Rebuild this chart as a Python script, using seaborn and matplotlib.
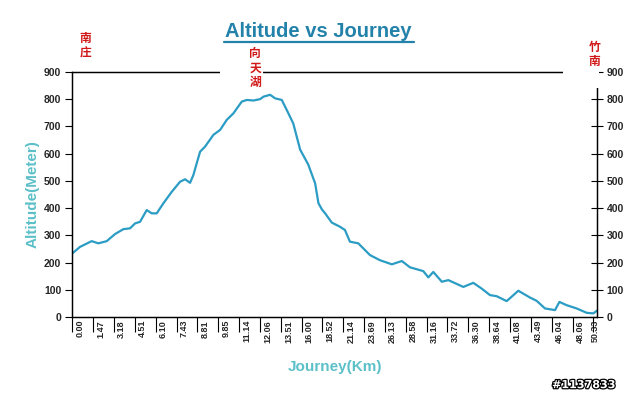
import matplotlib
matplotlib.use('Agg')
import matplotlib.pyplot as plt
import matplotlib.patheffects as pe
from matplotlib.patches import Rectangle
import seaborn as sns
import pandas as pd

# position along the category axis (in label-interval units) and altitude (m)
slot = [0.00, 0.37, 0.93, 1.25, 1.65, 2.05, 2.45, 2.77, 3.01, 3.25, 3.57, 3.81,
        4.05, 4.37, 4.77, 5.17, 5.41, 5.65, 5.81, 5.97, 6.13, 6.37, 6.77, 7.09,
        7.41, 7.73, 8.13, 8.37, 8.69, 9.01, 9.17, 9.49, 9.73, 10.05, 10.29, 10.60,
        10.93, 11.32, 11.65, 11.81, 11.98, 12.13, 12.45, 12.84, 13.08, 13.32, 13.72,
        14.28, 14.76, 15.33, 15.81, 16.20, 16.84, 17.08, 17.32, 17.73, 18.04, 18.76,
        19.24, 19.64, 20.04, 20.36, 20.84, 21.40, 21.96, 22.28, 22.68, 23.16, 23.37,
        23.72, 24.20, 24.68, 25.00, 25.21]
altitude = [234, 258, 279, 271, 279, 305, 323, 326, 344, 350, 393, 381,
            381, 418, 460, 497, 506, 493, 522, 565, 607, 626, 669, 687,
            724, 748, 791, 797, 795, 800, 809, 816, 803, 797, 760, 711,
            615, 560, 491, 418, 395, 381, 347, 332, 320, 277, 271,
            228, 209, 194, 206, 183, 169, 146, 166, 130, 136, 111,
            126, 105, 81, 77, 59, 97, 72, 60, 32, 26, 56,
            44, 32, 16, 14, 26]

journey_labels = ['0.00', '1.47', '3.18', '4.51', '6.10', '7.43', '8.81', '9.85',
                  '11.14', '12.06', '13.51', '16.00', '18.52', '21.14', '23.69',
                  '26.13', '28.58', '31.16', '33.72', '36.30', '38.64', '41.08',
                  '43.49', '46.04', '48.06', '50.33']
y_ticks = [0, 100, 200, 300, 400, 500, 600, 700, 800, 900]

df = pd.DataFrame({'slot': slot, 'altitude': altitude})

sns.set_style('white')
plt.rcParams['font.family'] = ['Liberation Sans', 'DejaVu Sans']

fig = plt.figure(figsize=(6.4, 3.95), dpi=100)
ax = fig.add_axes([0.113, 0.197, 0.820, 0.621])

sns.lineplot(data=df, x='slot', y='altitude', sort=False, ax=ax,
             color='#2b9cc4', linewidth=1.6)

n_int = len(journey_labels) - 1
ax.set_xlim(0, 25.18)
ax.set_ylim(0, 900)

# major ticks at category boundaries, labels in between
ax.set_xticks(range(n_int + 1))
ax.set_xticklabels([])
label_pos = [i + 0.37 for i in range(n_int)] + [25.08]
ax.set_xticks(label_pos, minor=True)
ax.set_xticklabels(journey_labels, minor=True, rotation=90, va='top', ha='center',
                   fontsize=6.5, fontweight='bold')
ax.tick_params(axis='x', which='major', direction='out', length=11, width=0.8,
               color='black', bottom=True)
ax.tick_params(axis='x', which='minor', length=0, pad=2, bottom=True)

ax.set_yticks(y_ticks)
ax.set_yticklabels([str(v) for v in y_ticks], fontsize=7.5, fontweight='bold')
ax.tick_params(axis='y', direction='out', length=5, width=0.8, color='black',
               left=True, pad=3)

ax2 = ax.twinx()
ax2.set_ylim(0, 900)
ax2.set_yticks(y_ticks)
ax2.set_yticklabels([str(v) for v in y_ticks], fontsize=7.5, fontweight='bold')
ax2.tick_params(axis='y', direction='inout', length=8, width=0.8, color='black',
                right=True, pad=3)

for a in (ax, ax2):
    for s in a.spines.values():
        s.set_color('black')
        s.set_linewidth(0.9)

ax.set_xlabel('Journey(Km)', fontsize=11, fontweight='bold', color='#5cc0c8',
              labelpad=12)
ax.set_ylabel('Altitude(Meter)', fontsize=11, fontweight='bold', color='#5cc0c8',
              labelpad=3)

fig.text(0.498, 0.921, 'Altitude vs Journey', ha='center', va='center',
         fontsize=14.5, fontweight='bold', color='#2382aa')
# underline of the title
fig.add_artist(plt.Line2D([0.350, 0.647], [0.894, 0.894], color='#2382aa',
                          linewidth=1.6, transform=fig.transFigure, zorder=6))

# white boxes behind the place names cut the top border, as in the original
W, H = 640.0, 395.0
for x0, x1, y0, y1 in [(220, 263, 47, 92), (563, 599, 36, 88)]:
    fig.add_artist(Rectangle((x0 / W, 1 - y1 / H), (x1 - x0) / W, (y1 - y0) / H,
                             transform=fig.transFigure, facecolor='white',
                             edgecolor='none', zorder=5))

cjk = ['Noto Sans CJK SC', 'DejaVu Sans']
red = '#d01818'
fig.text(0.133, 0.885, '南\n庄', ha='center', va='center', fontsize=8.5,
         fontweight='bold', color=red, family=cjk, linespacing=1.15, zorder=10)
fig.text(0.399, 0.827, '向\n天\n湖', ha='center', va='center', fontsize=8.5,
         fontweight='bold', color=red, family=cjk, linespacing=1.15, zorder=10)
fig.text(0.929, 0.862, '竹\n南', ha='center', va='center', fontsize=8.5,
         fontweight='bold', color=red, family=cjk, linespacing=1.15, zorder=10)

wm = fig.text(0.912, 0.025, '#1137833', ha='center', va='center', fontsize=8,
              fontweight='bold', color='white', family='DejaVu Sans')
wm.set_path_effects([pe.withStroke(linewidth=1.8, foreground='black')])

fig.savefig('out.png', dpi=100, facecolor='white')
